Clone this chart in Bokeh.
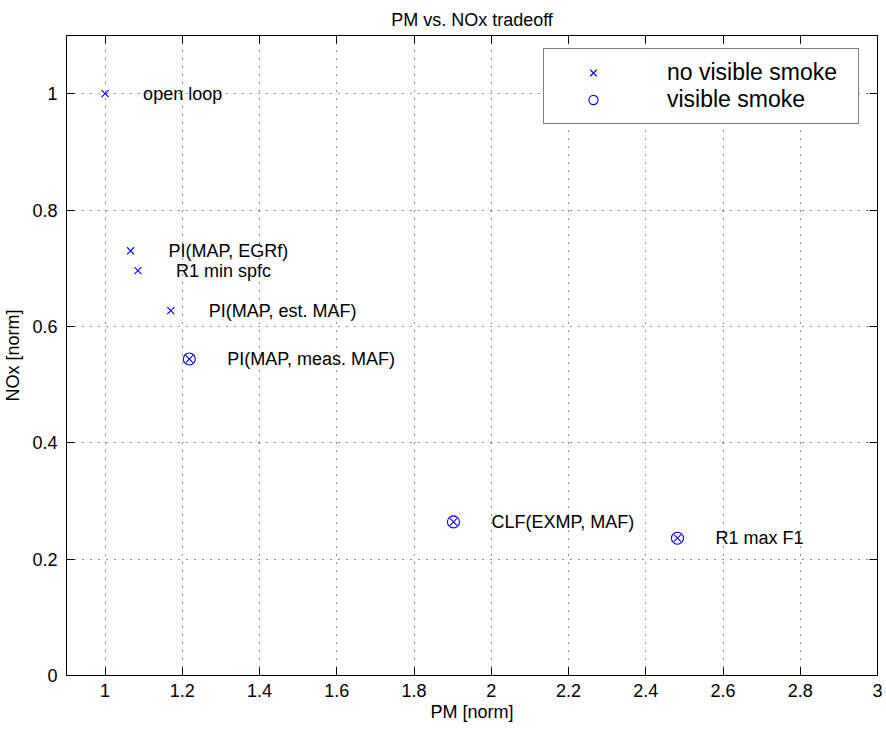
from bokeh.plotting import figure
from bokeh.models import (LinearAxis, FixedTicker, NumeralTickFormatter, Range1d,
                          Legend, LegendItem, ColumnDataSource, CustomJSTickFormatter)
from bokeh.core.properties import value
from bokeh.embed import file_html
from bokeh.resources import INLINE

# ---- data ----
labels = ["open loop", "PI(MAP, EGRf)", "R1 min spfc", "PI(MAP, est. MAF)",
          "PI(MAP, meas. MAF)", "CLF(EXMP, MAF)", "R1 max F1"]
pm = [1.000, 1.066, 1.085, 1.170, 1.218, 1.902, 2.482]
nox = [1.000, 0.730, 0.696, 0.627, 0.544, 0.264, 0.236]
visible_smoke = [False, False, False, False, True, True, True]

x_ticks = [1.0, 1.2, 1.4, 1.6, 1.8, 2.0, 2.2, 2.4, 2.6, 2.8, 3.0]
y_ticks = [0.0, 0.2, 0.4, 0.6, 0.8, 1.0]

title_text = "PM vs. NOx tradeoff"
x_label = "PM [norm]"
y_label = "NOx [norm]"
legend_labels = ["no visible smoke", "visible smoke"]

FONT = "Liberation Sans"
BLUE = "#0000ff"

src_all = ColumnDataSource(dict(pm=pm, nox=nox, label=labels))
src_smoke = ColumnDataSource(dict(
    pm=[x for x, s in zip(pm, visible_smoke) if s],
    nox=[y for y, s in zip(nox, visible_smoke) if s]))

p = figure(width=884, height=728, x_range=Range1d(0.9, 3.0), y_range=Range1d(0, 1.1),
           output_backend="svg", toolbar_location=None,
           min_border_left=66, min_border_right=7, min_border_top=35, min_border_bottom=53,
           title=title_text)

p.title.text_font = FONT
p.title.text_font_size = "18px"
p.title.text_font_style = "normal"
p.title.text_color = "black"
p.title.align = "center"
p.title.standoff = 12

p.outline_line_color = "black"
p.outline_line_width = 1

xt = FixedTicker(ticks=x_ticks, minor_ticks=[])
yt = FixedTicker(ticks=y_ticks, minor_ticks=[])
fmt = NumeralTickFormatter(format="0.[0]")
blank = CustomJSTickFormatter(code="return '';")

for ax in p.xaxis + p.yaxis:
    ax.major_label_text_font = FONT
    ax.major_label_text_font_size = "18px"
    ax.major_label_text_color = "black"
    ax.axis_label_text_font = FONT
    ax.axis_label_text_font_size = "18px"
    ax.axis_label_text_font_style = "normal"
    ax.axis_label_text_color = "black"
    ax.major_tick_in = 8
    ax.major_tick_out = 0
    ax.minor_tick_line_color = None
    ax.axis_line_color = "black"
    ax.major_tick_line_color = "black"
    ax.formatter = fmt

p.xaxis.ticker = xt
p.yaxis.ticker = yt
p.xaxis.axis_label = x_label
p.yaxis.axis_label = y_label
p.xaxis.major_label_standoff = 8
p.xaxis.axis_label_standoff = 2
p.yaxis.major_label_standoff = 9
p.yaxis.axis_label_standoff = 6

for loc, tk in (("above", xt), ("right", yt)):
    ax = LinearAxis(ticker=tk, formatter=blank)
    ax.major_label_standoff = 0
    ax.major_tick_in = 8
    ax.major_tick_out = 0
    ax.minor_tick_line_color = None
    ax.axis_line_color = "black"
    ax.major_tick_line_color = "black"
    p.add_layout(ax, loc)

p.xgrid.ticker = xt
p.ygrid.ticker = yt
for g in (p.xgrid, p.ygrid):
    g.grid_line_color = "#222222"
    g.grid_line_dash = "1 7"
    g.grid_line_width = 1

r_x = p.scatter("pm", "nox", source=src_all, marker="x", size=10,
                line_color=BLUE, fill_color=None, line_width=1.1)
r_o = p.scatter("pm", "nox", source=src_smoke, marker="circle", size=12,
                line_color=BLUE, fill_color=None, line_width=1.1)

p.text("pm", "nox", text="label", source=src_all, x_offset=38,
       text_align="left", text_baseline="middle", text_font=value(FONT),
       text_font_size="18px", text_color="black")

legend = Legend(items=[LegendItem(label=legend_labels[0], renderers=[r_x]),
                       LegendItem(label=legend_labels[1], renderers=[r_o])],
                location=(477, 551))
legend.label_text_font = FONT
legend.label_text_font_size = "23px"
legend.label_text_color = "black"
legend.border_line_color = "black"
legend.border_line_width = 1
legend.background_fill_color = "white"
legend.background_fill_alpha = 1
legend.padding = 10
legend.spacing = 0
legend.glyph_width = 78
legend.glyph_height = 23
legend.label_standoff = 35
legend.label_height = 23
legend.label_width = 181
legend.margin = 0
p.add_layout(legend, "center")

open("out.html", "w").write(file_html(p, INLINE))
